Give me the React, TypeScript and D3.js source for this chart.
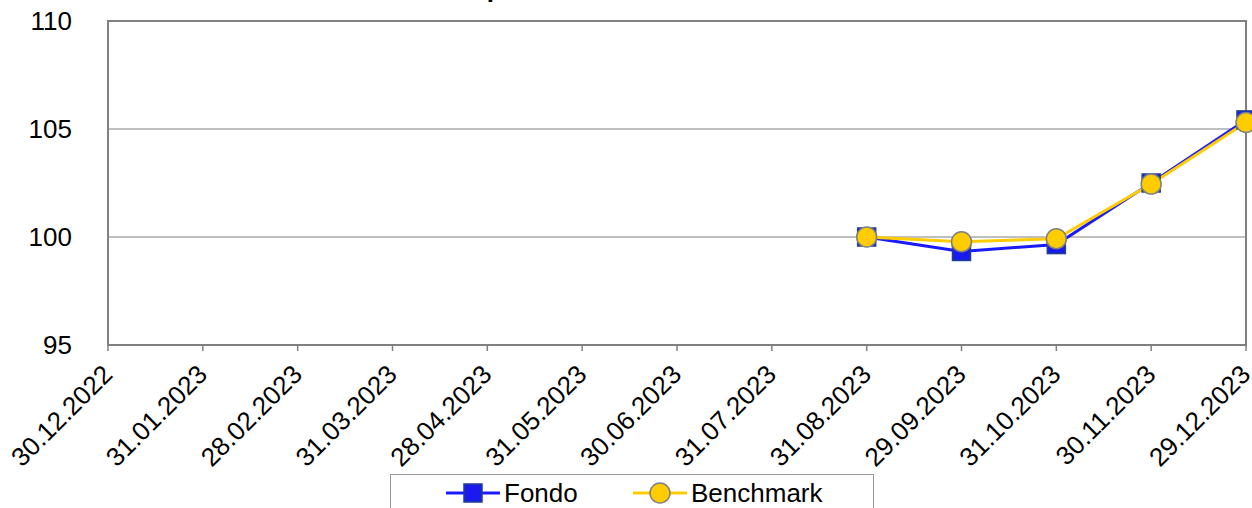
import * as d3 from "d3";

const dates = [
  "30.12.2022", "31.01.2023", "28.02.2023", "31.03.2023", "28.04.2023",
  "31.05.2023", "30.06.2023", "31.07.2023", "31.08.2023", "29.09.2023",
  "31.10.2023", "30.11.2023", "29.12.2023",
];
const fondo: (number | null)[] = [null, null, null, null, null, null, null, null, 100, 99.33, 99.65, 102.5, 105.42];
const benchmark: (number | null)[] = [null, null, null, null, null, null, null, null, 100, 99.78, 99.92, 102.45, 105.3];
const yTicks = [95, 100, 105, 110];

const W = 1252;
const H = 508;
const font = "Arial, 'Liberation Sans', sans-serif";

export default function App() {
  const x = d3.scalePoint<string>().domain(dates).range([108, 1246]);
  const y = d3.scaleLinear().domain([95, 110]).range([345, 21]);

  const line = d3
    .line<number | null>()
    .defined((d) => d !== null)
    .x((_, i) => x(dates[i])!)
    .y((d) => y(d as number));

  const fondoPts = fondo.map((v, i) => ({ v, d: dates[i] })).filter((p) => p.v !== null);
  const benchPts = benchmark.map((v, i) => ({ v, d: dates[i] })).filter((p) => p.v !== null);

  return (
    <svg
      width={W}
      height={H}
      style={{ position: "fixed", top: 0, left: 0, background: "#fff" }}
      fontFamily={font}
    >
      <text x={598} y={-3} textAnchor="middle" fontSize={26} fontWeight="bold">
        Andamento comparato del Fondo e del Benchmark
      </text>

      {/* grid */}
      {yTicks.slice(1, -1).map((t) => (
        <line key={t} x1={108} x2={1246} y1={y(t)} y2={y(t)} stroke="#808080" strokeWidth={1} />
      ))}
      {/* frame */}
      <rect x={108} y={21} width={1246 - 108} height={345 - 21} fill="none" stroke="#808080" strokeWidth={2} />

      {/* y labels */}
      {yTicks.map((t) => (
        <text key={t} x={72} y={y(t)} dy="0.36em" textAnchor="end" fontSize={26}>
          {t}
        </text>
      ))}

      {/* x ticks and labels */}
      {dates.map((d) => (
        <g key={d}>
          <line x1={x(d)} x2={x(d)} y1={345} y2={351} stroke="#808080" strokeWidth={1.5} />
          <text
            transform={`translate(${x(d)! + 6},${376}) rotate(-45)`}
            textAnchor="end"
            fontSize={26}
          >
            {d}
          </text>
        </g>
      ))}

      {/* series */}
      <path d={line(fondo) ?? ""} fill="none" stroke="#1a1aff" strokeWidth={3} />
      <path d={line(benchmark) ?? ""} fill="none" stroke="#ffcc00" strokeWidth={3} />
      {fondoPts.map((p) => (
        <rect
          key={p.d}
          x={x(p.d)! - 9}
          y={y(p.v as number) - 9}
          width={18}
          height={18}
          fill="#1a1aee"
          stroke="#1f3f8f"
          strokeWidth={1.5}
        />
      ))}
      {benchPts.map((p) => (
        <circle
          key={p.d}
          cx={x(p.d)}
          cy={y(p.v as number)}
          r={10}
          fill="#ffcc00"
          stroke="#808080"
          strokeWidth={1.5}
        />
      ))}

      {/* legend */}
      <rect x={390.5} y={474.5} width={483} height={60} fill="#fff" stroke="#999" strokeWidth={1} />
      <line x1={446} x2={500} y1={493} y2={493} stroke="#1a1aff" strokeWidth={3} />
      <rect x={464} y={484} width={18} height={18} fill="#1a1aee" stroke="#1f3f8f" strokeWidth={1.5} />
      <text x={504} y={493} dy="0.36em" fontSize={26}>Fondo</text>
      <line x1={633} x2={687} y1={493} y2={493} stroke="#ffcc00" strokeWidth={3} />
      <circle cx={660} cy={493} r={10} fill="#ffcc00" stroke="#808080" strokeWidth={1.5} />
      <text x={691} y={493} dy="0.36em" fontSize={26}>Benchmark</text>
    </svg>
  );
}
